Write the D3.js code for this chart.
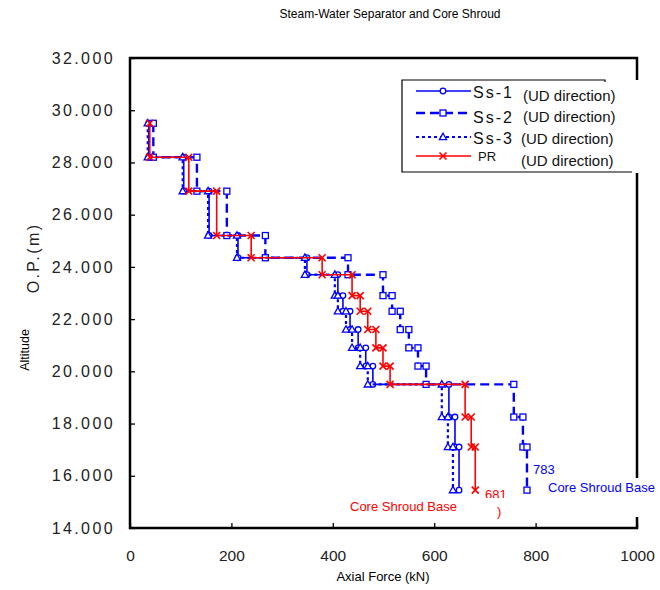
<!DOCTYPE html>
<html>
<head>
<meta charset="utf-8">
<script src="https://cdn.jsdelivr.net/npm/d3@7"></script>
<style>
  body { margin: 0; background: #fff; }
  svg { font-family: "Liberation Sans", Arial, sans-serif; }
</style>
</head>
<body>
<div id="chart"></div>
<script>
/* Axial force along the steam-water separator and core shroud, step profile per section */

// section boundaries (altitude, m) from top to bottom
const LEVELS = [29.5, 28.2, 26.9, 25.2, 24.35, 23.7, 22.9, 22.3, 21.6, 20.9, 20.2, 19.5, 18.25, 17.1, 15.45];
// axial force (kN) in each section between two levels
const SS1 = [37, 106, 156, 213, 349, 410, 420, 434, 450, 465, 479, 629, 641, 649];
const SS2 = [46, 132, 191, 267, 430, 499, 517, 533, 550, 568, 584, 757, 775, 783];
const SS3 = [35, 104, 154, 211, 345, 404, 410, 426, 438, 454, 469, 615, 627, 637];
const PR  = [39, 116, 171, 239, 379, 438, 454, 469, 485, 499, 513, 661, 673, 681];

const SERIES_NAMES = ["Ss-1", "Ss-2", "Ss-3", "PR"];
const X_TICKS = [0, 200, 400, 600, 800, 1000];
const Y_TICKS = [14, 16, 18, 20, 22, 24, 26, 28, 30, 32];

const W = 660, H = 590;
const BLUE = "#0000ff", RED = "#ff0000";

const svg = d3.select("#chart").append("svg").attr("width", W).attr("height", H);

const x = d3.scaleLinear().domain([0, 1000]).range([130, 637]);
const y = d3.scaleLinear().domain([14, 32]).range([528, 58]);

// style per series
const styles = {
  "Ss-1": {values: SS1, color: BLUE, width: 1.6, dash: null,  marker: "circle"},
  "Ss-2": {values: SS2, color: BLUE, width: 2.4, dash: "9,5", marker: "square"},
  "Ss-3": {values: SS3, color: BLUE, width: 2.2, dash: "3,3", marker: "triangle"},
  "PR":   {values: PR,  color: RED,  width: 1.6, dash: null,  marker: "cross"}
};

// step profile: each section is a vertical run at its force value
function stepPoints(vals){
  const pts = [];
  vals.forEach((v, i) => {
    pts.push([v, LEVELS[i]]);
    pts.push([v, LEVELS[i + 1]]);
  });
  return pts;
}

function drawMarker(g, type, cx, cy, color){
  if (type === "circle"){
    g.append("circle").attr("cx", cx).attr("cy", cy).attr("r", 2.8)
      .attr("fill", "#fff").attr("stroke", color).attr("stroke-width", 1.3);
  } else if (type === "square"){
    g.append("rect").attr("x", cx - 3).attr("y", cy - 3).attr("width", 6).attr("height", 6)
      .attr("fill", "#fff").attr("stroke", color).attr("stroke-width", 1.3);
  } else if (type === "triangle"){
    g.append("path").attr("d", `M${cx},${cy - 3.8}L${cx + 3.6},${cy + 2.6}L${cx - 3.6},${cy + 2.6}Z`)
      .attr("fill", "#fff").attr("stroke", color).attr("stroke-width", 1.3);
  } else {
    g.append("path").attr("d", `M${cx - 3.5},${cy - 3.5}L${cx + 3.5},${cy + 3.5}M${cx + 3.5},${cy - 3.5}L${cx - 3.5},${cy + 3.5}`)
      .attr("stroke", color).attr("stroke-width", 1.6).attr("fill", "none");
  }
}

// frame
svg.append("rect").attr("x", x(0)).attr("y", y(32))
   .attr("width", x(1000) - x(0)).attr("height", y(14) - y(32))
   .attr("fill", "none").attr("stroke", "#000").attr("stroke-width", 2.5);

// axes, ticks pointing inward
const yAxis = svg.append("g").attr("transform", `translate(${x(0)},0)`)
  .call(d3.axisLeft(y).tickValues(Y_TICKS).tickFormat(d3.format(".3f"))
        .tickSizeInner(-5).tickSizeOuter(0).tickPadding(15));
yAxis.select(".domain").remove();
yAxis.selectAll("line").attr("stroke", "#000").attr("stroke-width", 1.3);
yAxis.selectAll("text").attr("font-size", 16).attr("letter-spacing", 2.4)
     .attr("fill", "#222").attr("font-family", null);

const xAxis = svg.append("g").attr("transform", `translate(0,${y(14)})`)
  .call(d3.axisBottom(x).tickValues(X_TICKS).tickFormat(d3.format("d"))
        .tickSizeInner(-5).tickSizeOuter(0).tickPadding(22));
xAxis.select(".domain").remove();
xAxis.selectAll("line").attr("stroke", "#000").attr("stroke-width", 1.3);
xAxis.selectAll("text").attr("font-size", 15.5).attr("fill", "#222").attr("font-family", null);

// series
const line = d3.line().x(d => x(d[0])).y(d => y(d[1]));
SERIES_NAMES.forEach(name => {
  const s = styles[name];
  const pts = stepPoints(s.values);
  svg.append("path").datum(pts).attr("d", line)
     .attr("fill", "none").attr("stroke", s.color).attr("stroke-width", s.width)
     .attr("stroke-dasharray", s.dash);
  const mg = svg.append("g");
  pts.forEach(p => drawMarker(mg, s.marker, x(p[0]), y(p[1]), s.color));
});

// titles
svg.append("text").attr("x", 390).attr("y", 18).attr("text-anchor", "middle")
   .attr("font-size", 12).text("Steam-Water Separator and Core Shroud");
svg.append("text").attr("x", 383).attr("y", 581).attr("text-anchor", "middle")
   .attr("font-size", 13).text("Axial Force (kN)");
svg.append("text").attr("transform", "translate(29,350) rotate(-90)").attr("text-anchor", "middle")
   .attr("font-size", 12.5).text("Altitude");
svg.append("text").attr("transform", "translate(39,258) rotate(-90)")
   .attr("text-anchor", "middle").attr("font-size", 16).attr("letter-spacing", 2.4)
   .attr("fill", "#222").text("O.P.(m)");

// legend
const lg = svg.append("g");
lg.append("rect").attr("x", 402).attr("y", 80).attr("width", 238).attr("height", 93).attr("fill", "#fff");
lg.append("path").attr("d", "M605,82V80H402V172H632").attr("fill", "none")
  .attr("stroke", "#000").attr("stroke-width", 1.2);
const rows = [
  {name: "Ss-1", label: "Ss-1", ly: 91,  ty: 92,  ux: 523, uy: 96},
  {name: "Ss-2", label: "Ss-2", ly: 113, ty: 117, ux: 523, uy: 117},
  {name: "Ss-3", label: "Ss-3", ly: 137, ty: 138, ux: 521, uy: 139},
  {name: "PR",   label: "PR",   ly: 156, ty: 156, ux: 521, uy: 161}
];
rows.forEach(r => {
  const s = styles[r.name];
  lg.append("line").attr("x1", 416).attr("x2", 471).attr("y1", r.ly).attr("y2", r.ly)
    .attr("stroke", s.color).attr("stroke-width", s.width).attr("stroke-dasharray", s.dash);
  drawMarker(lg, s.marker, 443, r.ly, s.color);
  const t = lg.append("text").attr("x", r.name === "PR" ? 478 : 473).attr("y", r.ty)
    .attr("dy", "0.35em").attr("fill", "#111").text(r.label);
  if (r.name === "PR") t.attr("font-size", 13);
  else t.attr("font-size", 16).attr("letter-spacing", 2);
  lg.append("text").attr("x", r.ux).attr("y", r.uy).attr("dy", "0.35em")
    .attr("font-size", 15).attr("fill", "#111").text("(UD direction)");
});

// annotations at the shroud base
svg.append("rect").attr("x", 541).attr("y", 478).attr("width", 119).attr("height", 39).attr("fill", "#fff");
svg.append("text").attr("x", 533).attr("y", 469).attr("dy", "0.35em").attr("font-size", 13)
   .attr("fill", BLUE).text("783");
svg.append("text").attr("x", 548).attr("y", 487).attr("dy", "0.35em").attr("font-size", 13)
   .attr("fill", BLUE).text("Core Shroud Base");

svg.append("text").attr("x", 485).attr("y", 494).attr("dy", "0.35em").attr("font-size", 13)
   .attr("fill", RED).text("681");
svg.append("rect").attr("x", 482).attr("y", 498).attr("width", 28).attr("height", 6).attr("fill", "#fff");
svg.append("text").attr("x", 497).attr("y", 511).attr("dy", "0.35em").attr("font-size", 13)
   .attr("fill", RED).text(")");
svg.append("text").attr("x", 350).attr("y", 506).attr("dy", "0.35em").attr("font-size", 13)
   .attr("fill", RED).text("Core Shroud Base");
</script>
</body>
</html>
